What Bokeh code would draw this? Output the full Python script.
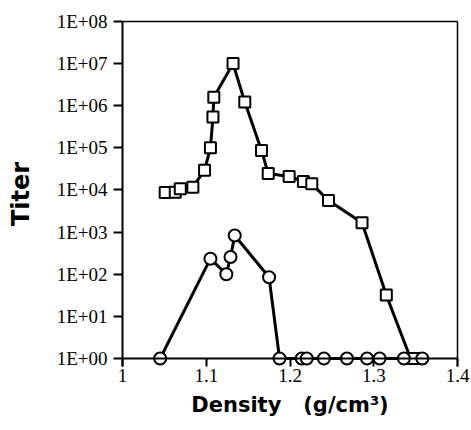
from bokeh.plotting import figure
from bokeh.models import FixedTicker, CustomJSTickFormatter, LinearAxis, LogAxis, Range1d, Span
from bokeh.embed import file_html
from bokeh.resources import INLINE

# Square series (titer vs density)
sq_density = [1.051, 1.063, 1.069, 1.084, 1.098, 1.105, 1.108, 1.109, 1.132, 1.146,
              1.166, 1.174, 1.199, 1.216, 1.226, 1.246, 1.286, 1.315, 1.344, 1.348]
sq_titer = [8.7e3, 8.9e3, 1.07e4, 1.17e4, 2.95e4, 1.0e5, 5.4e5, 1.6e6, 1.0e7, 1.23e6,
            8.7e4, 2.45e4, 2.1e4, 1.6e4, 1.4e4, 5.6e3, 1.66e3, 32, 1, 1]

# Circle series
ci_density = [1.045, 1.105, 1.124, 1.129, 1.134, 1.175, 1.1875, 1.214, 1.220, 1.2405,
              1.268, 1.292, 1.307, 1.336, 1.358]
ci_titer = [1, 234, 100, 257, 832, 85, 1, 1, 1, 1, 1, 1, 1, 1, 1]

x_ticks = [1.0, 1.1, 1.2, 1.3, 1.4]
x_tick_labels = ["1", "1.1", "1.2", "1.3", "1.4"]
y_ticks = [1, 1e1, 1e2, 1e3, 1e4, 1e5, 1e6, 1e7, 1e8]

p = figure(width=471, height=430,
           x_range=Range1d(1.0, 1.4), y_range=Range1d(10 ** -0.19, 1e8),
           y_axis_type="log", output_backend="svg", toolbar_location=None,
           min_border_left=122, min_border_right=14, min_border_top=21,
           min_border_bottom=64)
p.outline_line_color = None
p.xgrid.grid_line_color = None
p.ygrid.grid_line_color = None
p.background_fill_color = "white"
p.border_fill_color = "white"

xa = p.below[0]
xa.ticker = FixedTicker(ticks=x_ticks)
xa.major_label_overrides = {t: l for t, l in zip(x_ticks, x_tick_labels)}
xa.minor_tick_line_color = None
xa.axis_line_color = None
xa.major_tick_in = 8
xa.major_tick_out = 0
xa.major_tick_line_width = 2
xa.major_label_standoff = 2
xa.major_label_text_font = "Liberation Serif"
xa.major_label_text_font_size = "19px"
xa.major_label_text_color = "black"
xa.axis_label = "Density\u00a0\u00a0\u00a0(g/cm\u00b3)"
xa.axis_label_text_font = "DejaVu Sans"
xa.axis_label_text_font_style = "bold"
xa.axis_label_text_font_size = "21px"
xa.axis_label_text_color = "black"
xa.axis_label_standoff = 8

ya = p.left[0]
ya.ticker = FixedTicker(ticks=y_ticks)
ya.formatter = CustomJSTickFormatter(code="""
const e = Math.round(Math.log10(tick));
return "1E+" + String(e).padStart(2, "0");
""")
ya.minor_tick_line_color = None
ya.major_tick_in = 0
ya.major_tick_out = 9
ya.axis_line_width = 2
ya.major_tick_line_width = 2
ya.major_label_standoff = 6
ya.major_label_text_font = "Liberation Serif"
ya.major_label_text_font_size = "19px"
ya.major_label_text_color = "black"
ya.axis_label = "Titer"
ya.axis_label_text_font = "DejaVu Sans"
ya.axis_label_text_font_style = "bold"
ya.axis_label_text_font_size = "24px"
ya.axis_label_text_color = "black"
ya.axis_label_standoff = 19

top = LinearAxis(ticker=FixedTicker(ticks=[]), axis_line_width=1.5,
                 major_tick_line_color=None, minor_tick_line_color=None)
p.add_layout(top, "above")
right = LogAxis(ticker=FixedTicker(ticks=[]), axis_line_width=1.5,
                major_tick_line_color=None, minor_tick_line_color=None)
p.add_layout(right, "right")

# x-axis baseline drawn at titer = 1
p.add_layout(Span(location=1, dimension="width", line_color="black", line_width=2))

p.line(sq_density, sq_titer, line_color="black", line_width=3)
p.line(ci_density, ci_titer, line_color="black", line_width=3)
p.scatter(sq_density, sq_titer, marker="square", size=11, fill_color="white",
          line_color="black", line_width=2)
p.scatter(ci_density, ci_titer, marker="circle", size=12, fill_color="white",
          line_color="black", line_width=2)

open("out.html", "w").write(file_html(p, INLINE))
